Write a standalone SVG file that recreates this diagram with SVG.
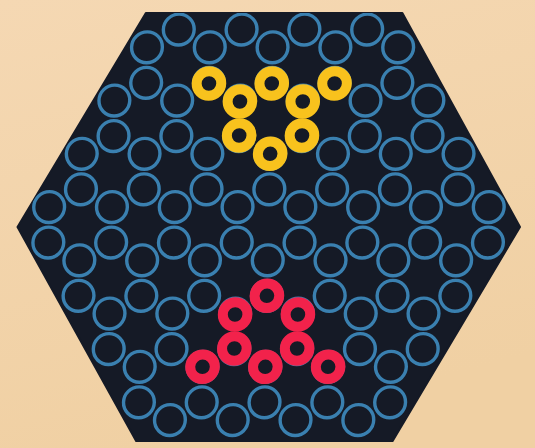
<svg xmlns="http://www.w3.org/2000/svg" width="535" height="448" viewBox="0 0 535 448">
  <defs>
    <linearGradient id="paper" x1="0" y1="0" x2="0.3" y2="1">
      <stop offset="0" stop-color="#f5d8b3"/>
      <stop offset="1" stop-color="#f0d0a3"/>
    </linearGradient>
    <clipPath id="hexClip" clipPathUnits="userSpaceOnUse">
      <polygon points="141,13 397.5,13 520,227 397.5,441 141,441 17.5,227"/>
    </clipPath>
    <style>
      .board { fill: #151a26; stroke: #151a26; stroke-width: 2; stroke-linejoin: round; }
      .hole { fill: none; stroke: #3a80b0; stroke-width: 3.4; }
      .yellow { fill: none; stroke: #f8c21d; stroke-width: 10; }
      .red { fill: none; stroke: #f2224b; stroke-width: 10; }
    </style>
  </defs>

  <rect x="0" y="0" width="535" height="448" fill="url(#paper)"/>

  <g id="board-scene" transform="translate(5.15 0) skewX(-1.3)">
    <polygon id="board" class="board" points="141,13 397.5,13 520,227 397.5,441 141,441 17.5,227"/>

    <g id="holes" clip-path="url(#hexClip)">
      <g class="hole">
        <circle cx="174.3" cy="29.55" r="15.4"/><circle cx="237.1" cy="29.55" r="15.4"/><circle cx="299.9" cy="29.55" r="15.4"/><circle cx="362.7" cy="29.55" r="15.4"/>
        <circle cx="142.9" cy="47.3" r="15.4"/><circle cx="205.7" cy="47.3" r="15.4"/><circle cx="268.5" cy="47.3" r="15.4"/><circle cx="331.3" cy="47.3" r="15.4"/><circle cx="394.1" cy="47.3" r="15.4"/>
        <circle cx="142.9" cy="82.8" r="15.4"/><circle cx="205.7" cy="82.8" r="15.4"/><circle cx="268.5" cy="82.8" r="15.4"/><circle cx="331.3" cy="82.8" r="15.4"/><circle cx="394.1" cy="82.8" r="15.4"/>
        <circle cx="111.5" cy="100.55" r="15.4"/><circle cx="174.3" cy="100.55" r="15.4"/><circle cx="237.1" cy="100.55" r="15.4"/><circle cx="299.9" cy="100.55" r="15.4"/><circle cx="362.7" cy="100.55" r="15.4"/><circle cx="425.5" cy="100.55" r="15.4"/>
        <circle cx="111.5" cy="136.05" r="15.4"/><circle cx="174.3" cy="136.05" r="15.4"/><circle cx="237.1" cy="136.05" r="15.4"/><circle cx="299.9" cy="136.05" r="15.4"/><circle cx="362.7" cy="136.05" r="15.4"/><circle cx="425.5" cy="136.05" r="15.4"/>
        <circle cx="80.1" cy="153.8" r="15.4"/><circle cx="142.9" cy="153.8" r="15.4"/><circle cx="205.7" cy="153.8" r="15.4"/><circle cx="268.5" cy="153.8" r="15.4"/><circle cx="331.3" cy="153.8" r="15.4"/><circle cx="394.1" cy="153.8" r="15.4"/><circle cx="456.9" cy="153.8" r="15.4"/>
        <circle cx="80.1" cy="189.3" r="15.4"/><circle cx="142.9" cy="189.3" r="15.4"/><circle cx="205.7" cy="189.3" r="15.4"/><circle cx="268.5" cy="189.3" r="15.4"/><circle cx="331.3" cy="189.3" r="15.4"/><circle cx="394.1" cy="189.3" r="15.4"/><circle cx="456.9" cy="189.3" r="15.4"/>
        <circle cx="48.7" cy="207.05" r="15.4"/><circle cx="111.5" cy="207.05" r="15.4"/><circle cx="174.3" cy="207.05" r="15.4"/><circle cx="237.1" cy="207.05" r="15.4"/><circle cx="299.9" cy="207.05" r="15.4"/><circle cx="362.7" cy="207.05" r="15.4"/><circle cx="425.5" cy="207.05" r="15.4"/><circle cx="488.3" cy="207.05" r="15.4"/>
        <circle cx="48.7" cy="242.55" r="15.4"/><circle cx="111.5" cy="242.55" r="15.4"/><circle cx="174.3" cy="242.55" r="15.4"/><circle cx="237.1" cy="242.55" r="15.4"/><circle cx="299.9" cy="242.55" r="15.4"/><circle cx="362.7" cy="242.55" r="15.4"/><circle cx="425.5" cy="242.55" r="15.4"/><circle cx="488.3" cy="242.55" r="15.4"/>
        <circle cx="80.1" cy="260.3" r="15.4"/><circle cx="142.9" cy="260.3" r="15.4"/><circle cx="205.7" cy="260.3" r="15.4"/><circle cx="268.5" cy="260.3" r="15.4"/><circle cx="331.3" cy="260.3" r="15.4"/><circle cx="394.1" cy="260.3" r="15.4"/><circle cx="456.9" cy="260.3" r="15.4"/>
        <circle cx="80.1" cy="295.8" r="15.4"/><circle cx="142.9" cy="295.8" r="15.4"/><circle cx="205.7" cy="295.8" r="15.4"/><circle cx="268.5" cy="295.8" r="15.4"/><circle cx="331.3" cy="295.8" r="15.4"/><circle cx="394.1" cy="295.8" r="15.4"/><circle cx="456.9" cy="295.8" r="15.4"/>
        <circle cx="111.5" cy="313.55" r="15.4"/><circle cx="174.3" cy="313.55" r="15.4"/><circle cx="237.1" cy="313.55" r="15.4"/><circle cx="299.9" cy="313.55" r="15.4"/><circle cx="362.7" cy="313.55" r="15.4"/><circle cx="425.5" cy="313.55" r="15.4"/>
        <circle cx="111.5" cy="349.05" r="15.4"/><circle cx="174.3" cy="349.05" r="15.4"/><circle cx="237.1" cy="349.05" r="15.4"/><circle cx="299.9" cy="349.05" r="15.4"/><circle cx="362.7" cy="349.05" r="15.4"/><circle cx="425.5" cy="349.05" r="15.4"/>
        <circle cx="142.9" cy="366.8" r="15.4"/><circle cx="205.7" cy="366.8" r="15.4"/><circle cx="268.5" cy="366.8" r="15.4"/><circle cx="331.3" cy="366.8" r="15.4"/><circle cx="394.1" cy="366.8" r="15.4"/>
        <circle cx="142.9" cy="402.3" r="15.4"/><circle cx="205.7" cy="402.3" r="15.4"/><circle cx="268.5" cy="402.3" r="15.4"/><circle cx="331.3" cy="402.3" r="15.4"/><circle cx="394.1" cy="402.3" r="15.4"/>
        <circle cx="174.3" cy="420.05" r="15.4"/><circle cx="237.1" cy="420.05" r="15.4"/><circle cx="299.9" cy="420.05" r="15.4"/><circle cx="362.7" cy="420.05" r="15.4"/>
      </g>
    </g>

    <g id="yellow-pieces" class="yellow">
      <circle cx="205.7" cy="83.5" r="12.3"/>
      <circle cx="268.5" cy="83.5" r="12.3"/>
      <circle cx="331.3" cy="83.5" r="12.3"/>
      <circle cx="237.1" cy="101.5" r="12.3"/>
      <circle cx="299.9" cy="101.5" r="12.3"/>
      <circle cx="237.1" cy="135.5" r="12.3"/>
      <circle cx="299.9" cy="135.5" r="12.3"/>
      <circle cx="268.5" cy="153.8" r="12.3"/>
    </g>

    <g id="red-pieces" class="red">
      <circle cx="268.5" cy="295.8" r="12.3"/>
      <circle cx="237.1" cy="314.5" r="12.3"/>
      <circle cx="299.9" cy="314.5" r="12.3"/>
      <circle cx="237.1" cy="348.5" r="12.3"/>
      <circle cx="299.9" cy="348.5" r="12.3"/>
      <circle cx="205.7" cy="366.8" r="12.3"/>
      <circle cx="268.5" cy="366.8" r="12.3"/>
      <circle cx="331.3" cy="366.8" r="12.3"/>
    </g>
  </g>
</svg>
